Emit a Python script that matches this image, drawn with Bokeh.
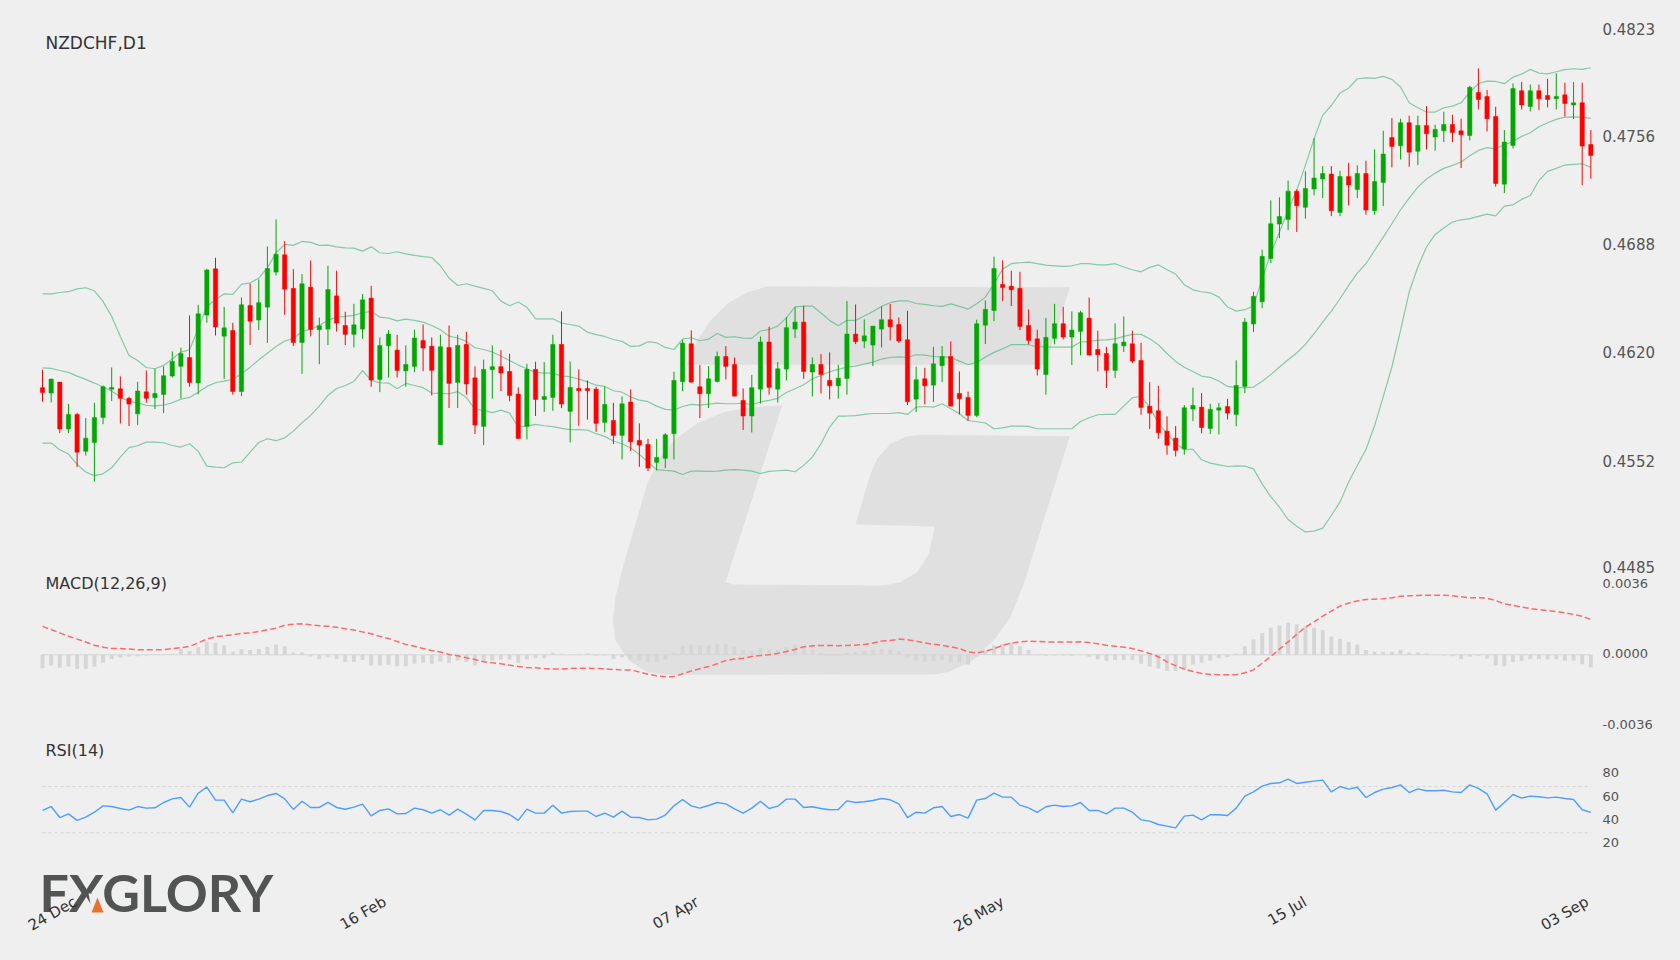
from bokeh.plotting import figure
from bokeh.layouts import column
from bokeh.models import FixedTicker, ColumnDataSource, Label
from bokeh.core.properties import value
from bokeh.embed import file_html
from bokeh.resources import INLINE

BG = "#efefef"
UP = "#00a800"
DOWN = "#ff0000"

# Prices in 1e-4 units
highs = [4609.9,4604.2,4602.1,4588.5,4582.8,4579.5,4589.1,4600.0,4611.3,4605.7,
4592.9,4602.3,4609.4,4610.5,4612.0,4621.4,4623.7,4644.0,4650.7,4673.3,
4680.2,4649.4,4639.4,4655.3,4664.1,4666.6,4687.3,4704.3,4690.7,4673.1,
4670.0,4678.5,4642.7,4675.2,4672.1,4646.3,4651.3,4657.4,4662.6,4630.2,
4634.8,4631.8,4625.2,4635.0,4638.3,4630.2,4631.9,4637.7,4631.9,4633.7,
4612.0,4616.2,4625.2,4622.2,4619.9,4598.8,4613.6,4614.9,4614.7,4631.9,
4646.5,4615.1,4610.1,4603.2,4599.2,4599.4,4589.1,4593.1,4597.5,4576.2,
4566.5,4566.5,4570.1,4608.6,4628.7,4634.6,4612.8,4612.2,4621.2,4624.7,
4617.6,4598.1,4606.7,4630.8,4636.9,4614.7,4643.0,4649.2,4649.9,4617.6,
4619.7,4620.8,4613.0,4653.0,4650.9,4641.5,4637.3,4649.4,4651.1,4642.7,
4646.9,4611.8,4611.1,4624.3,4624.7,4627.7,4608.8,4596.1,4641.3,4653.4,
4680.9,4678.6,4672.1,4671.4,4647.8,4635.0,4642.3,4651.3,4649.4,4646.5,
4646.9,4655.3,4634.4,4624.3,4639.0,4643.4,4634.4,4626.8,4602.1,4599.8,
4580.6,4574.5,4587.7,4598.6,4595.2,4588.5,4589.1,4591.6,4615.8,4642.4,
4658.9,4685.3,4716.3,4718.2,4728.8,4723.2,4734.5,4755.4,4737.8,4737.8,
4734.9,4739.9,4738.3,4741.2,4748.3,4760.0,4768.0,4767.6,4769.5,4769.5,
4775.5,4763.8,4772.0,4770.1,4767.6,4788.3,4799.2,4785.6,4775.1,4760.5,
4789.8,4790.6,4789.1,4789.1,4792.7,4796.1,4790.2,4790.6,4790.2,4760.5]

lows = [4589.8,4589.3,4570.1,4570.1,4548.7,4556.0,4539.5,4575.7,4590.2,4576.1,
4574.5,4575.1,4589.1,4585.2,4582.6,4605.0,4591.9,4599.2,4594.4,4639.4,
4631.4,4604.2,4594.2,4593.3,4625.4,4634.8,4626.8,4669.1,4644.4,4624.7,
4607.3,4630.8,4613.4,4625.4,4633.9,4625.4,4623.9,4629.3,4599.2,4595.8,
4605.0,4605.0,4599.2,4608.4,4609.0,4593.7,4562.8,4585.8,4585.8,4594.2,
4569.5,4562.5,4591.7,4596.5,4590.0,4566.7,4566.1,4580.8,4583.3,4584.1,
4585.8,4564.2,4574.7,4578.5,4570.9,4570.5,4563.2,4553.5,4558.8,4548.9,
4546.2,4546.6,4548.1,4553.5,4596.3,4601.7,4579.5,4585.8,4601.9,4603.8,
4593.3,4572.0,4570.5,4588.7,4594.2,4589.3,4603.2,4629.8,4604.2,4593.1,
4595.0,4591.2,4591.7,4594.2,4626.0,4623.5,4612.2,4623.9,4628.3,4626.8,
4587.7,4583.3,4588.1,4589.6,4602.1,4587.0,4581.8,4577.8,4580.1,4626.0,
4640.4,4653.0,4649.9,4634.8,4625.8,4606.3,4594.2,4625.8,4628.9,4612.8,
4618.9,4618.9,4608.8,4598.4,4604.6,4621.0,4614.1,4581.6,4572.6,4566.5,
4556.5,4555.4,4556.5,4577.6,4569.9,4569.5,4569.2,4578.6,4574.4,4595.2,
4633.6,4648.6,4676.9,4692.6,4697.6,4696.4,4704.8,4719.4,4717.7,4706.4,
4706.4,4713.1,4717.7,4707.3,4707.3,4712.7,4737.0,4742.0,4737.4,4738.5,
4748.3,4747.5,4752.9,4752.9,4736.6,4754.0,4773.4,4759.6,4724.9,4720.9,
4748.9,4773.4,4772.2,4773.0,4774.7,4773.4,4769.0,4767.4,4725.9,4729.9]

opens = [4598.6,4595.2,4602.1,4572.6,4581.8,4558.6,4564.2,4579.9,4597.7,4597.9,
4591.9,4582.2,4596.0,4592.3,4594.4,4605.9,4612.0,4617.6,4601.5,4644.2,
4673.3,4631.0,4634.6,4596.2,4650.3,4641.1,4649.2,4671.2,4682.1,4661.0,
4627.0,4661.8,4635.0,4635.4,4656.3,4637.7,4632.1,4635.4,4654.9,4603.8,
4624.9,4622.2,4609.2,4612.0,4628.3,4624.7,4562.8,4623.9,4601.9,4625.8,
4604.8,4574.3,4609.9,4611.8,4608.8,4594.6,4574.3,4610.1,4591.2,4592.5,
4625.8,4583.7,4598.1,4598.1,4597.7,4576.8,4578.0,4568.6,4589.6,4565.5,
4563.0,4551.7,4554.2,4569.7,4602.3,4626.2,4599.2,4594.8,4602.5,4618.2,
4613.2,4590.6,4580.8,4597.7,4627.3,4597.7,4610.3,4635.4,4639.8,4608.4,
4613.2,4603.2,4599.8,4604.4,4632.3,4627.9,4625.4,4635.4,4641.3,4638.3,
4628.7,4591.4,4604.2,4600.2,4612.4,4618.2,4595.0,4592.5,4581.2,4637.9,
4647.1,4663.5,4662.4,4661.0,4637.7,4629.3,4606.9,4629.6,4638.8,4630.4,
4634.0,4642.3,4622.6,4620.1,4609.5,4624.9,4626.2,4615.7,4587.0,4584.1,
4571.3,4566.9,4560.0,4585.2,4586.4,4573.0,4584.5,4586.8,4581.8,4599.4,
4638.6,4652.6,4679.8,4701.4,4704.3,4722.1,4711.9,4723.4,4729.7,4732.8,
4708.7,4731.3,4723.2,4733.2,4709.8,4727.6,4755.8,4750.6,4765.1,4747.1,
4763.4,4756.1,4760.0,4764.0,4760.0,4757.1,4784.1,4781.6,4769.0,4726.5,
4750.8,4785.2,4775.3,4785.2,4782.2,4780.1,4782.6,4776.2,4777.6,4751.4]

closes = [4595.6,4604.0,4572.6,4581.8,4558.1,4566.9,4579.9,4599.2,4598.8,4591.9,
4588.3,4596.5,4591.9,4595.0,4606.1,4615.1,4620.1,4601.9,4645.0,4672.5,
4636.7,4636.2,4596.2,4650.7,4640.4,4652.0,4673.5,4682.5,4660.5,4627.0,
4663.9,4635.2,4637.5,4660.3,4639.2,4632.1,4638.1,4653.8,4603.4,4625.1,
4632.3,4609.4,4613.2,4629.8,4623.5,4609.5,4624.3,4601.3,4625.2,4600.9,
4575.1,4610.1,4611.8,4607.8,4593.7,4566.7,4610.1,4591.2,4593.1,4625.8,
4588.3,4598.8,4596.7,4596.7,4576.2,4588.1,4568.6,4588.5,4564.6,4562.5,
4548.1,4554.8,4569.0,4603.2,4626.6,4602.1,4594.8,4604.2,4618.2,4612.0,
4593.3,4580.8,4598.6,4627.3,4598.8,4610.5,4636.3,4639.8,4608.8,4613.2,
4606.9,4599.8,4604.6,4632.3,4627.5,4631.2,4637.3,4641.3,4636.9,4627.9,
4589.8,4603.6,4599.8,4613.6,4618.2,4587.0,4591.7,4581.2,4638.8,4647.8,
4673.5,4661.6,4660.1,4637.1,4628.3,4610.3,4630.2,4638.8,4630.4,4634.8,
4645.7,4619.1,4619.3,4609.5,4626.2,4627.3,4615.3,4586.2,4582.6,4570.3,
4562.5,4559.2,4586.0,4587.5,4573.6,4585.0,4586.0,4582.6,4600.0,4639.8,
4656.0,4681.1,4701.6,4706.2,4722.1,4712.9,4723.8,4730.3,4733.2,4709.8,
4731.3,4725.9,4733.2,4710.2,4728.2,4745.4,4750.2,4765.1,4746.6,4763.4,
4758.1,4760.9,4764.0,4759.0,4757.5,4787.3,4779.7,4767.6,4726.9,4752.9,
4786.6,4776.2,4785.2,4780.1,4779.7,4781.6,4777.2,4777.6,4750.4,4744.5]

bb_upper = [4657.6,4657.6,4658.4,4658.9,4660.7,4661.4,4659.5,4652.8,4643.4,4630.8,
4618.9,4615.7,4611.3,4610.5,4612.6,4616.6,4621.0,4622.4,4635.6,4649.6,
4653.8,4657.6,4657.2,4663.5,4664.5,4667.4,4673.9,4683.4,4688.6,4688.0,
4690.5,4689.9,4688.0,4688.2,4687.1,4686.5,4686.3,4684.4,4687.1,4683.4,
4682.9,4684.0,4682.7,4681.7,4680.9,4680.4,4675.2,4667.5,4662.8,4663.9,
4662.4,4661.0,4659.5,4653.0,4650.1,4652.4,4649.2,4641.9,4641.9,4641.9,
4639.2,4638.3,4637.3,4633.5,4631.9,4630.8,4628.9,4627.7,4624.5,4624.9,
4627.5,4626.8,4623.9,4622.6,4629.1,4630.0,4628.1,4629.1,4632.7,4630.2,
4630.6,4629.8,4629.6,4634.2,4635.2,4637.3,4642.5,4649.4,4649.9,4649.9,
4645.5,4640.9,4637.5,4640.9,4640.9,4643.6,4646.5,4649.7,4652.0,4653.2,
4653.2,4651.5,4650.9,4650.1,4649.7,4651.3,4649.7,4648.0,4651.3,4655.5,
4663.9,4673.1,4676.5,4677.1,4677.5,4676.5,4675.6,4675.2,4674.8,4675.2,
4676.5,4676.5,4675.8,4675.8,4676.5,4674.4,4672.7,4671.4,4674.2,4675.8,
4672.7,4670.0,4663.3,4660.1,4658.9,4658.2,4655.5,4649.3,4646.7,4647.6,
4649.9,4667.1,4682.8,4696.4,4710.0,4722.6,4738.3,4755.0,4769.7,4775.9,
4783.7,4786.8,4792.7,4793.3,4792.9,4794.2,4792.3,4787.5,4777.6,4774.5,
4771.8,4771.8,4774.5,4775.5,4777.6,4784.3,4789.6,4791.2,4791.0,4789.6,
4793.7,4795.6,4798.6,4796.3,4795.8,4797.1,4798.4,4799.0,4798.6,4799.6]

bb_mid = [4611.1,4610.7,4609.4,4608.2,4605.9,4603.8,4601.5,4599.0,4596.5,4592.7,
4590.0,4589.1,4587.5,4587.2,4587.7,4589.1,4591.4,4592.5,4595.8,4599.4,
4601.7,4602.7,4603.8,4607.3,4611.5,4616.1,4620.3,4624.5,4627.9,4629.5,
4633.9,4635.2,4637.7,4640.9,4642.9,4643.4,4644.0,4645.7,4646.5,4642.9,
4642.3,4640.6,4641.7,4640.9,4639.8,4637.7,4635.0,4631.0,4629.8,4627.7,
4623.7,4622.6,4621.0,4618.5,4615.7,4612.8,4610.5,4608.2,4607.8,4607.8,
4605.9,4605.5,4604.0,4602.3,4600.2,4599.4,4596.7,4595.8,4592.7,4590.8,
4589.8,4587.0,4585.0,4584.5,4586.8,4588.1,4587.7,4588.3,4588.9,4588.5,
4588.5,4588.9,4587.9,4589.6,4590.6,4591.9,4595.6,4597.9,4600.4,4604.2,
4606.3,4608.6,4610.1,4611.5,4612.2,4613.4,4614.7,4616.6,4617.6,4618.0,
4617.6,4619.3,4619.1,4618.2,4618.0,4617.6,4615.3,4613.0,4614.5,4617.8,
4620.8,4623.1,4625.6,4625.6,4625.6,4624.3,4624.3,4624.1,4624.1,4624.1,
4627.3,4627.5,4628.5,4628.7,4629.3,4630.8,4632.1,4632.1,4629.3,4625.6,
4620.1,4615.1,4611.5,4608.8,4605.9,4605.1,4602.8,4599.4,4598.6,4598.6,
4599.0,4602.6,4606.8,4611.6,4616.2,4620.4,4625.8,4632.5,4639.8,4646.7,
4654.5,4662.9,4670.6,4676.5,4684.9,4693.2,4701.6,4710.4,4717.7,4724.6,
4729.7,4733.4,4736.4,4738.3,4740.4,4744.3,4747.7,4749.4,4748.7,4751.2,
4753.3,4756.5,4758.8,4762.5,4765.1,4767.2,4768.6,4768.8,4768.6,4767.8]

bb_lower = [4563.8,4563.8,4559.6,4556.9,4550.4,4545.6,4543.3,4544.5,4548.3,4555.0,
4560.9,4562.1,4564.4,4564.4,4564.0,4562.3,4561.3,4563.4,4558.6,4549.3,
4548.7,4548.3,4551.4,4551.9,4558.1,4564.2,4566.5,4565.3,4567.1,4571.3,
4576.6,4581.2,4587.0,4593.7,4598.1,4600.0,4602.5,4609.4,4603.2,4601.7,
4601.5,4597.9,4601.3,4600.0,4598.6,4595.2,4595.0,4594.8,4596.1,4592.5,
4585.0,4584.3,4582.9,4584.5,4582.6,4573.9,4574.5,4575.5,4574.7,4574.1,
4573.0,4572.2,4572.2,4572.0,4569.7,4568.0,4565.1,4563.4,4560.7,4556.7,
4551.9,4547.1,4546.6,4546.2,4544.1,4546.2,4546.2,4546.0,4546.2,4546.8,
4547.1,4546.8,4546.2,4544.7,4546.0,4546.4,4546.8,4545.8,4549.8,4555.0,
4563.4,4573.9,4580.8,4580.8,4581.0,4581.8,4582.4,4582.4,4582.4,4582.9,
4581.8,4586.4,4586.8,4586.4,4588.5,4585.4,4582.2,4578.0,4577.2,4576.4,
4572.8,4573.4,4574.5,4574.5,4574.3,4572.8,4572.8,4572.8,4572.8,4572.8,
4577.4,4579.7,4581.6,4581.8,4581.8,4587.0,4592.3,4593.1,4586.4,4576.4,
4569.7,4563.4,4560.0,4559.8,4553.3,4551.2,4550.1,4549.1,4549.5,4549.3,
4547.6,4538.2,4530.2,4523.5,4515.8,4511.6,4508.0,4508.5,4510.4,4518.3,
4526.7,4539.3,4549.7,4559.8,4574.8,4593.0,4611.6,4634.6,4658.7,4674.4,
4687.0,4694.9,4698.9,4702.7,4704.1,4704.8,4706.2,4707.7,4706.6,4712.7,
4713.5,4716.9,4719.4,4728.8,4734.5,4736.4,4738.5,4738.9,4739.3,4737.0]

# MACD in 1e-4 units
macd_signal = [14.5,12.9,11.2,9.5,8.0,6.5,4.9,3.9,3.2,3.2,
2.9,2.6,2.6,2.6,2.6,3.2,3.6,4.3,6.1,8.0,
9.2,9.7,10.2,10.9,11.2,11.9,12.8,13.6,15.1,15.6,
15.8,15.3,14.8,14.6,14.1,13.3,12.6,11.7,10.7,9.4,
8.3,6.8,5.3,4.4,3.2,2.2,1.4,0.2,-0.5,-1.5,
-2.4,-3.6,-4.1,-4.6,-5.3,-6.0,-6.5,-6.6,-7.0,-7.3,
-7.3,-7.0,-6.8,-6.8,-7.0,-7.1,-7.5,-7.7,-7.7,-8.8,
-9.9,-10.7,-11.2,-11.1,-9.7,-8.3,-7.1,-6.0,-4.6,-2.9,
-2.2,-1.7,-0.9,-0.3,0.0,0.7,1.7,2.7,4.1,4.6,
4.8,4.8,4.6,4.8,4.9,5.3,6.0,7.0,7.3,8.0,
7.7,7.0,6.0,5.4,4.8,4.1,3.2,1.5,0.9,1.9,
3.1,4.8,6.0,6.6,7.0,6.8,6.6,6.5,6.5,6.5,
6.6,6.3,5.6,4.9,4.4,3.9,3.2,2.0,0.7,-1.0,
-3.6,-5.6,-7.3,-8.5,-9.5,-10.0,-10.2,-10.2,-10.2,-9.2,
-7.7,-4.3,-0.9,2.9,6.6,10.4,14.1,16.8,19.7,22.3,
24.8,26.4,27.5,28.2,28.4,28.6,29.1,29.9,30.1,30.3,
30.4,30.4,30.4,30.1,29.6,29.1,29.1,28.9,27.7,26.0,
25.3,24.3,23.6,23.0,22.6,22.1,21.4,20.6,19.7,18.0]

macd_hist = [-6.8,-5.4,-6.6,-6.0,-7.3,-7.3,-6.0,-3.9,-2.2,-1.4,
-0.9,-0.7,-0.3,-0.2,-0.2,0.5,2.9,1.9,3.9,6.5,
6.1,4.8,1.5,2.9,2.4,2.9,4.1,5.3,4.3,1.2,
1.2,-0.9,-2.2,-1.2,-2.2,-3.7,-3.7,-2.7,-5.4,-5.4,
-5.1,-5.8,-5.8,-4.6,-4.1,-4.6,-3.4,-4.1,-2.9,-3.7,
-5.4,-3.7,-2.9,-2.4,-2.4,-4.1,-2.4,-1.7,-1.7,1.0,
0.5,0.3,0.5,0.7,-0.5,-0.3,-2.2,-1.2,-2.2,-2.6,
-3.7,-3.7,-2.4,1.2,4.6,5.3,4.9,4.8,5.6,5.6,
4.3,2.6,1.9,3.6,2.7,2.6,3.9,5.3,4.4,2.6,
1.0,-0.2,-0.2,1.0,1.5,2.0,2.6,2.9,2.6,1.7,
-1.5,-2.9,-3.6,-3.2,-2.6,-3.9,-4.1,-4.9,-0.9,2.2,
4.8,5.6,6.1,4.3,2.4,-0.2,-0.5,-0.3,-0.3,-0.5,
0.0,-1.0,-2.4,-3.2,-2.6,-2.6,-2.7,-4.6,-6.0,-7.0,
-8.3,-8.3,-7.7,-4.9,-3.9,-2.9,-1.7,-1.2,0.7,4.4,
7.8,11.1,13.8,15.0,16.3,15.5,14.5,13.8,12.6,9.4,
8.2,6.5,5.3,2.4,1.5,1.5,1.5,2.6,1.2,1.2,
0.7,0.0,-0.3,-0.7,-2.2,-0.9,-0.5,-1.9,-5.4,-5.8,
-3.7,-3.2,-2.2,-2.2,-2.4,-2.2,-2.9,-2.9,-4.8,-6.5]

rsi = [49.3,52.7,43.2,46.4,40.7,43.5,47.8,53.3,52.7,51.0,
49.6,52.7,51.3,51.6,56.2,59.3,60.5,52.2,64.2,69.4,
58.2,58.2,47.3,59.1,56.8,59.1,62.2,64.0,59.3,50.2,
57.3,51.9,51.9,56.2,51.9,50.4,52.2,54.8,44.7,49.3,
50.7,46.4,46.7,51.3,49.9,47.0,49.9,45.3,50.4,46.1,
41.2,49.3,49.3,48.4,45.8,40.7,50.4,47.0,47.0,53.9,
47.0,48.4,48.7,48.7,44.1,47.0,43.5,48.7,43.5,43.2,
41.2,41.8,45.3,53.3,58.8,53.3,51.3,53.6,56.2,55.0,
50.7,47.0,51.3,57.3,51.0,53.0,59.1,59.1,51.9,52.5,
51.0,49.9,50.2,57.6,56.2,56.8,57.9,59.6,58.5,55.0,
43.2,47.8,47.0,51.6,52.7,44.1,45.8,42.7,58.2,59.6,
64.2,60.8,60.8,53.9,51.6,47.6,52.5,53.9,52.7,53.3,
56.2,49.3,49.3,46.4,51.3,51.3,47.8,41.2,40.1,37.2,
35.8,34.3,44.4,45.3,41.2,45.6,45.6,45.0,51.3,61.7,
65.4,70.3,72.6,73.2,76.3,72.6,73.7,74.6,75.5,65.4,
70.0,67.7,69.4,60.5,64.8,67.7,69.1,71.4,64.8,68.0,
66.3,66.3,66.8,65.4,64.8,71.4,68.3,63.7,49.6,56.2,
63.1,60.0,61.7,61.1,60.2,60.8,59.6,58.8,49.9,47.6]

price_ticks = [0.4823, 0.4756, 0.4688, 0.4620, 0.4552, 0.4485]
price_labels = ["0.4823", "0.4756", "0.4688", "0.4620", "0.4552", "0.4485"]
macd_ticks = [0.0036, 0.0, -0.0036]
macd_labels = ["0.0036", "0.0000", "-0.0036"]
rsi_ticks = [80, 60, 40, 20]
rsi_labels = ["80", "60", "40", "20"]
rsi_levels = [70, 30]
date_ticks = [3.8, 39.6, 75.7, 111, 146, 178.6]
date_labels = ["24 Dec", "16 Feb", "07 Apr", "26 May", "15 Jul", "03 Sep"]

# Page geometry: the MACD panel overlaps the bottom of the price panel and is transparent there
X0, DX = 42.0, 8.65
FR_L, FR_R = 0, 1595
P_TOP, P_BOT = 0, 581
M_TOP, M_BOT = 569, 735
R_TOP, R_BOT = 735, 960
PX_PRICE = 6.283e-5
PX_MACD = 1 / 19600.0
PX_RSI = 1 / 1.158
def x_of(px): return (px - X0) / DX
def price_of(py): return 0.4485 + (568 - py) * PX_PRICE
def macd_of(py): return (654.3 - py) * PX_MACD
def rsi_of(py): return 70 - (py - 786) * PX_RSI

n = len(closes)
idx = list(range(n))
xr = (x_of(FR_L), x_of(FR_R))

def make(height, yr, ticks, labels, lift, fmt_size):
    p = figure(width=1680, height=height, x_range=xr, y_range=yr,
               output_backend="svg", toolbar_location=None, y_axis_location="right",
               min_border_left=0, min_border_right=1680 - FR_R, min_border_top=0, min_border_bottom=0,
               background_fill_color=BG, border_fill_color=BG)
    p.outline_line_color = None
    p.grid.visible = False
    ax = p.yaxis[0]
    placed = [round(t + lift, 7) for t in ticks]
    ax.ticker = FixedTicker(ticks=placed)
    ax.major_label_overrides = dict(zip(placed, labels))
    ax.axis_line_color = None
    ax.major_tick_line_color = None
    ax.minor_tick_line_color = None
    ax.major_label_text_font = "DejaVu Sans"
    ax.major_label_text_font_size = fmt_size
    ax.major_label_text_color = "#555555"
    ax.major_label_standoff = 1
    return p

# Watermark outline
wm_a_x = [1408,500,440,380,330,290,258,1335]
wm_a_y = [50,48,65,100,150,210,283,283]
wm_b_x = [545,375,400,850,900,950,985,1003,765,810,830,870,920,960,1408,1270,1230,1180,1110,1040,1000,200,140,85,45,37,45,70,140,175,220,290,370,450]
wm_b_y = [405,935,942,945,935,905,850,768,762,610,565,520,497,493,497,940,1040,1110,1175,1205,1212,1213,1205,1170,1110,1050,980,880,640,565,510,458,425,410]

def watermark(p, yconv):
    for xs, ys in ((wm_a_x, wm_a_y), (wm_b_x, wm_b_y)):
        p.patch([x_of(600 + v / 3) for v in xs], [yconv(270 + v / 3) for v in ys],
                fill_color="#e0e0e0", line_color=None, level="underlay")

# --- price panel
p1 = make(P_BOT - P_TOP, (price_of(P_BOT), price_of(P_TOP)), price_ticks, price_labels, 1.2 * PX_PRICE, "15px")
p1.xaxis.visible = False
watermark(p1, price_of)
for band in (bb_upper, bb_mid, bb_lower):
    p1.line(idx, [v / 1e4 for v in band], line_color="#3cb371", line_alpha=0.6, line_width=1.2)
src = ColumnDataSource(dict(
    x=idx,
    high=[v / 1e4 for v in highs],
    low=[v / 1e4 for v in lows],
    open=[v / 1e4 for v in opens],
    close=[v / 1e4 for v in closes],
    color=[DOWN if o > c else UP for o, c in zip(opens, closes)],
))
p1.segment("x", "high", "x", "low", source=src, line_color="color", line_width=1)
p1.vbar(x="x", top="open", bottom="close", width=0.5, source=src, fill_color="color", line_color="color", line_width=0.5)
p1.add_layout(Label(x=x_of(45), y=price_of(42), text="NZDCHF,D1", text_font="DejaVu Sans",
                    text_font_size="17px", text_color="#333333", text_baseline="middle"))

# --- MACD panel
p2 = make(M_BOT - M_TOP, (macd_of(M_BOT), macd_of(M_TOP)), macd_ticks, macd_labels, 1.2 * PX_MACD, "13px")
p2.margin = (M_TOP - P_BOT, 0, 0, 0)
p2.background_fill_alpha = 0
p2.border_fill_alpha = 0
p2.xaxis.visible = False
p2.line([idx[0], idx[-1]], [0, 0], line_color="#d6d6d6", line_width=1)
watermark(p2, macd_of)
p2.vbar(x=idx, top=[v / 1e4 for v in macd_hist], bottom=0, width=0.45, fill_color="#d6d6d6", line_color=None)
p2.line(idx, [v / 1e4 for v in macd_signal], line_color="#ff6a6a", line_width=1.5, line_dash="6 3")
p2.add_layout(Label(x=x_of(45), y=macd_of(582.5), text="MACD(12,26,9)", text_font="DejaVu Sans",
                    text_font_size="16px", text_color="#333333", text_baseline="middle"))

# --- RSI panel
p3 = make(R_BOT - R_TOP, (rsi_of(R_BOT), rsi_of(R_TOP)), rsi_ticks, rsi_labels, 2.0 * PX_RSI, "13px")
for lv in rsi_levels:
    p3.line([idx[0], idx[-1]], [lv, lv], line_color="#d4d4d4", line_width=1, line_dash="3 3")
p3.line(idx, rsi, line_color="#4d9fff", line_width=1.4)
p3.add_layout(Label(x=x_of(45), y=rsi_of(750), text="RSI(14)", text_font="DejaVu Sans",
                    text_font_size="16px", text_color="#333333", text_baseline="middle"))
# logo
p3.text([x_of(39)], [rsi_of(891)], text=["FXGLORY"], text_font=value("Lato"),
        text_font_size="52px", text_font_style="bold", text_color="#525453", text_baseline="alphabetic")
cx = [88, 103, 103, 92]
cy = [893, 893, 914, 914]
p3.patch([x_of(v) for v in cx], [rsi_of(v) for v in cy], fill_color=BG, line_color=None)
tx = [91, 97, 103]
ty = [912, 897, 912]
p3.patch([x_of(v) for v in tx], [rsi_of(v) for v in ty], fill_color="#e8722a", line_color=None)

xa = p3.xaxis[0]
xa.ticker = FixedTicker(ticks=date_ticks)
xa.major_label_overrides = dict(zip(date_ticks, date_labels))
xa.fixed_location = rsi_of(892)
xa.axis_line_color = None
xa.major_tick_line_color = None
xa.minor_tick_line_color = None
xa.major_label_orientation = 0.52
xa.major_label_text_font = "DejaVu Sans"
xa.major_label_text_font_size = "15px"
xa.major_label_text_color = "#333333"
xa.major_label_standoff = 2

layout = column(p1, p2, p3, spacing=0)
html = file_html(layout, INLINE)
html = html.replace("</head>", "<style>html,body{background:#efefef;overflow:hidden}</style></head>")
open("out.html", "w").write(html)
